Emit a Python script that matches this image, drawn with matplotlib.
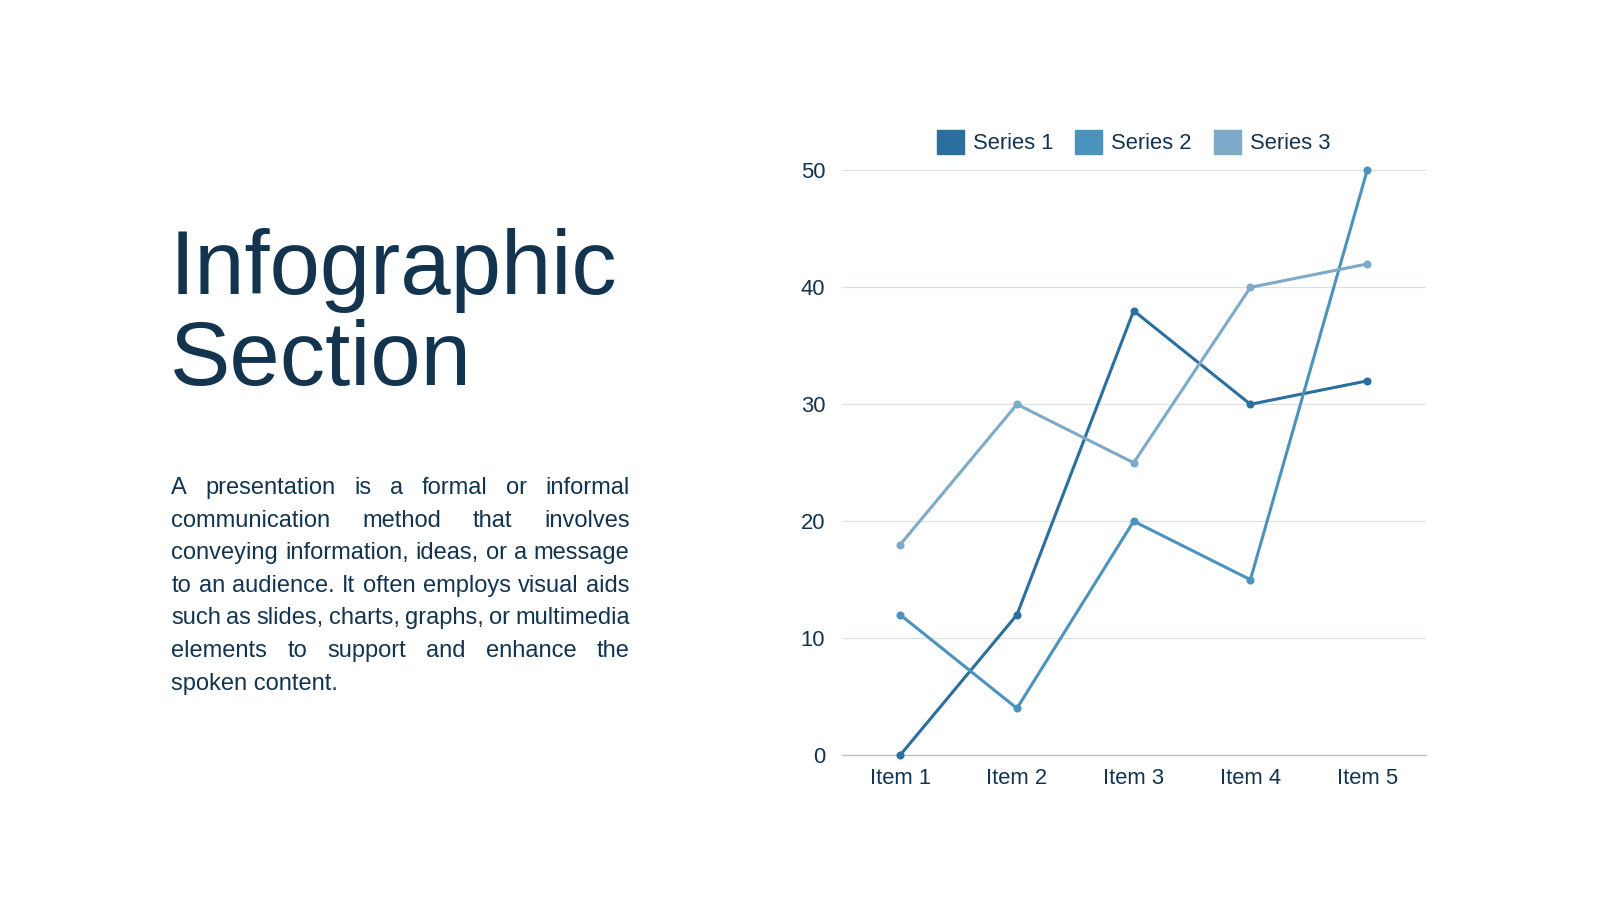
import matplotlib
matplotlib.use("Agg")
import matplotlib.pyplot as plt
from matplotlib.patches import Patch

categories = ["Item 1", "Item 2", "Item 3", "Item 4", "Item 5"]
series_names = ["Series 1", "Series 2", "Series 3"]
series1 = [0, 12, 38, 30, 32]
series2 = [12, 4, 20, 15, 50]
series3 = [18, 30, 25, 40, 42]
colors = ["#2a6f9e", "#4b93bd", "#7daac8"]
yticks = [0, 10, 20, 30, 40, 50]

title_lines = ["Infographic", "Section"]
body_lines = [
    "A presentation is a formal or informal",
    "communication method that involves",
    "conveying information, ideas, or a message",
    "to an audience. It often employs visual aids",
    "such as slides, charts, graphs, or multimedia",
    "elements to support and enhance the",
    "spoken content.",
]

TXT = "#13344f"
plt.rcParams["font.family"] = ["Liberation Sans", "DejaVu Sans"]

W, H = 1600, 900
S = 1600 / 1568  # reference measured at 1568 wide
fig = plt.figure(figsize=(16, 9), dpi=100)
fig.patch.set_facecolor("white")

def fx(px):
    return px * S / W

def fy(py):
    return 1 - py * S / H

# Title
fig.text(fx(166.5), fy(288), title_lines[0], fontsize=65.2, color=TXT, va="baseline", ha="left")
fig.text(fx(166.5), fy(377), title_lines[1], fontsize=65.2, color=TXT, va="baseline", ha="left")

# Justified body text
renderer = fig.canvas.get_renderer()
left_px, right_px = 168 * S, 617 * S
base0, step = 484, 32
fs = 17
for i, line in enumerate(body_lines):
    y = fy(base0 + i * step)
    words = line.split(" ")
    last = i == len(body_lines) - 1
    if last:
        fig.text(left_px / W, y, line, fontsize=fs, color=TXT, va="baseline", ha="left")
        continue
    objs = [fig.text(0, y, w, fontsize=fs, color=TXT, va="baseline", ha="left") for w in words]
    widths = [o.get_window_extent(renderer).width for o in objs]
    total = sum(widths)
    gap = (right_px - left_px - total) / (len(words) - 1)
    x = left_px
    for o, wdt in zip(objs, widths):
        o.set_x(x / W)
        x += wdt + gap

# Chart
ax = fig.add_axes([fx(825), fy(740), fx(1397) - fx(825), fy(167) - fy(740)])
xs = list(range(len(categories)))
for vals, c in zip([series1, series2, series3], colors):
    ax.plot(xs, vals, color=c, lw=2.2, marker="o", ms=4.8, zorder=3, clip_on=False)

ax.set_xlim(-0.5, len(categories) - 0.5)
ax.set_ylim(0, 50)
ax.set_yticks(yticks)
ax.set_xticks(xs)
ax.set_xticklabels(categories)
ax.tick_params(axis="both", length=0, labelsize=15.8, colors=TXT)
ax.tick_params(axis="y", pad=12)
ax.tick_params(axis="x", pad=9)
for s in ["top", "right", "left"]:
    ax.spines[s].set_visible(False)
ax.spines["bottom"].set_color("#b8bfc6")
ax.spines["bottom"].set_linewidth(1.0)
ax.grid(axis="y", color="#dde1e4", lw=0.9)
ax.set_axisbelow(True)

handles = [Patch(facecolor=c, edgecolor=c, label=n) for c, n in zip(colors, series_names)]
leg = ax.legend(handles=handles, loc="lower center", bbox_to_anchor=(0.5, 1.005), ncol=3,
                frameon=False, fontsize=15.8, handlelength=1.22, handleheight=1.25,
                handletextpad=0.42, columnspacing=1.0, borderaxespad=0.2)
for t in leg.get_texts():
    t.set_color(TXT)

fig.savefig("out.png", dpi=100, facecolor="white")
